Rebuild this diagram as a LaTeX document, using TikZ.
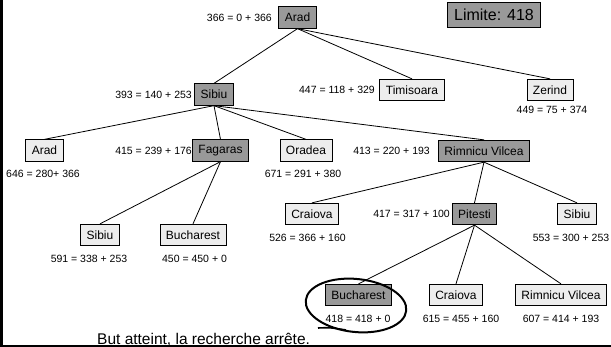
\documentclass[tikz,border=0pt]{standalone}
\usepackage{fontspec}
\setmainfont{Liberation Sans}
\begin{document}
\begin{tikzpicture}[x=1pt,y=-1pt,
  box/.style={draw=black,line width=0.8pt,inner xsep=6pt,inner ysep=0pt,minimum height=21.5pt,font=\fontsize{12}{12}\selectfont},
  dark/.style={box,fill=black!40},
  light/.style={box,fill=black!7},
  lbl/.style={inner sep=0pt,font=\fontsize{10.5}{10.5}\selectfont},
  edge/.style={line width=0.8pt}]
\useasboundingbox (0,0) rectangle (611,347);
\clip (0,0) rectangle (611,347);
% nodes
\node[dark] (a0) at (297.5,17.5) {Arad};
\node[dark,font=\fontsize{16}{16}\selectfont,minimum height=25pt,inner xsep=7pt] (lim) at (494,14.5) {Limite: 418};
\node[dark] (s1) at (214,94.5) {Sibiu};
\node[light] (t1) at (412,90) {Timisoara};
\node[light] (z1) at (550,90) {Zerind};
\node[light] (a2) at (44.5,150.5) {Arad};
\node[dark] (f2) at (220.5,150.5) {Fagaras};
\node[light] (o2) at (306,150.5) {Oradea};
\node[dark] (r2) at (484,151) {Rimnicu Vilcea};
\node[light] (c3) at (312,214) {Craiova};
\node[dark] (p3) at (474.5,214) {Pitesti};
\node[light] (s3r) at (577,214) {Sibiu};
\node[light] (s3l) at (100,235) {Sibiu};
\node[light] (b3) at (193,235) {Bucharest};
\node[dark] (b4) at (358.5,295) {Bucharest};
\node[light] (c4) at (456,295) {Craiova};
\node[light] (r4) at (561,295) {Rimnicu Vilcea};
% labels
\node[lbl,anchor=east] (la0) at (272,17.5) {366 = 0 + 366};
\node[lbl,anchor=east] (ls1) at (192,94.5) {393 = 140 + 253};
\node[lbl,anchor=east] (lt1) at (375,90) {447 = 118 + 329};
\node[lbl] (lz1) at (552,109.5) {449 = 75 + 374};
\node[lbl] (la2) at (43,173.5) {646 = 280+ 366};
\node[lbl,anchor=east] (lf2) at (192,150.5) {415 = 239 + 176};
\node[lbl] (lo2) at (303,173.5) {671 = 291 + 380};
\node[lbl,anchor=east] (lr2) at (430,151) {413 = 220 + 193};
\node[lbl] (lc3) at (307.5,238) {526 = 366 + 160};
\node[lbl,anchor=east] (lp3) at (450,214) {417 = 317 + 100};
\node[lbl] (ls3r) at (571,238) {553 = 300 + 253};
\node[lbl] (ls3l) at (89,259) {591 = 338 + 253};
\node[lbl] (lb3) at (194.5,259) {450 = 450 + 0};
\node[lbl] (lb4) at (358,318.5) {418 = 418 + 0};
\node[lbl] (lc4) at (461,318.5) {615 = 455 + 160};
\node[lbl] (lr4) at (561,318.5) {607 = 414 + 193};
% edges
\draw[edge] (a0.south) -- (s1.north);
\draw[edge] (a0.south) -- (t1.north);
\draw[edge] (a0.south) -- (z1.north);
\draw[edge] (s1.south) -- (a2.north);
\draw[edge] (s1.south) -- (f2.north);
\draw[edge] (s1.south) -- (o2.north);
\draw[edge] (s1.south) -- (r2.north);
\draw[edge] (f2.south) -- (s3l.north);
\draw[edge] (f2.south) -- (b3.north);
\draw[edge] (r2.south) -- (c3.north);
\draw[edge] (r2.south) -- (p3.north);
\draw[edge] (r2.south) -- (s3r.north);
\draw[edge] (p3.south) -- (b4.north);
\draw[edge] (p3.south) -- (c4.north);
\draw[edge] (p3.south) -- (r4.north);
% highlight ellipse
\draw[line width=2pt,rotate around={-6:(356,305.5)}] (356,305.5) ellipse [x radius=50.5, y radius=26.5];
\draw[line width=1.6pt] (318,328) .. controls (330,327.5) .. (346,330);
% bottom text
\node[anchor=base west,inner sep=0pt,font=\fontsize{15.5}{15.5}\selectfont] (goal) at (97,344.5) {But atteint, la recherche arrête.};
% frame
\fill[white] (0,346) rectangle (611,347);
\draw[line width=1.5pt] (0,345.8) -- (611,345.8);
\fill[black] (0,0) rectangle (3,347);
\end{tikzpicture}
\end{document}
